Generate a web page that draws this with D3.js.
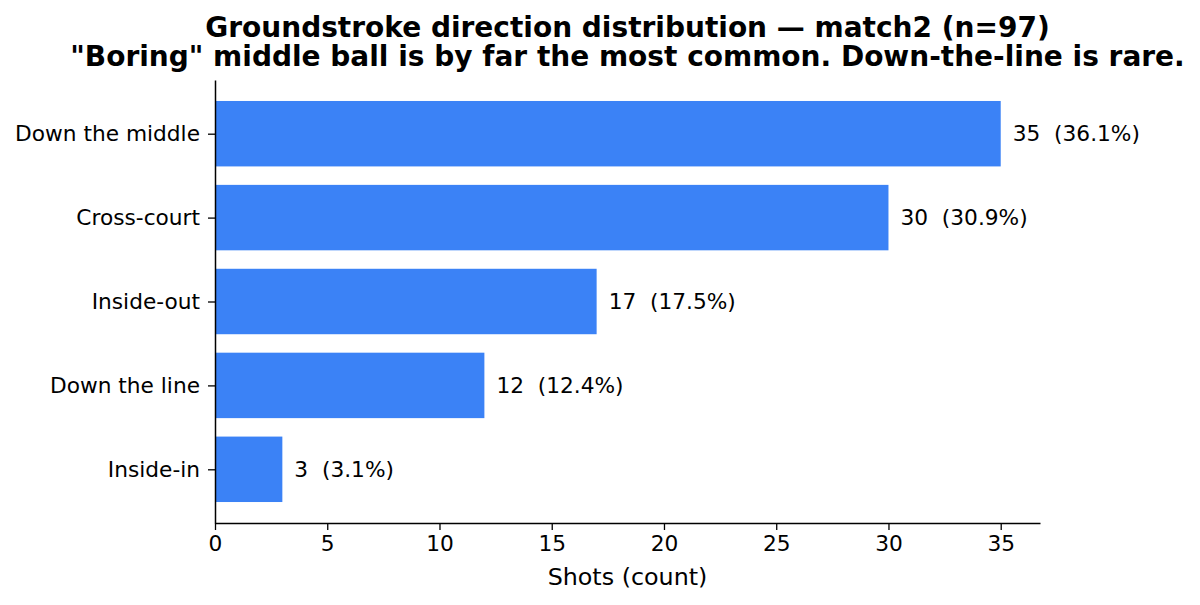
<!DOCTYPE html>
<html>
<head>
<meta charset="utf-8">
<script src="https://cdn.jsdelivr.net/npm/d3@7"></script>
<style>
body { margin: 0; background: #fff; }
text { font-family: "DejaVu Sans", sans-serif; fill: #000; }
</style>
</head>
<body>
<svg id="chart" width="1200" height="605"></svg>
<script>
var categories = ["Down the middle", "Cross-court", "Inside-out", "Down the line", "Inside-in"];
var counts = [35, 30, 17, 12, 3];
var percents = [36.1, 30.9, 17.5, 12.4, 3.1];
var xTicks = [0, 5, 10, 15, 20, 25, 30, 35];

var titleLines = [
	"Groundstroke direction distribution \u2014 match2 (n=97)",
	"\"Boring\" middle ball is by far the most common. Down-the-line is rare."
];

var chart = {};
chart.left = 215;
chart.right = 1040;
chart.top = 80;
chart.bottom = 523;
chart.barColor = "#3b82f6";
chart.tickFont = "21.7px";

var svg = d3.select("#chart");

var x = d3.scaleLinear().domain([0, 36.75]).range([chart.left, chart.right]);
var y = d3.scaleLinear().domain([-0.64, 4.64]).range([chart.top, chart.bottom]);
var barH = (y(1) - y(0)) * 0.78;

// bars
svg.append("g").selectAll("rect")
	.data(categories)
	.enter().append("rect")
	.attr("x", x(0))
	.attr("y", function(d, i){ return y(i) - barH / 2; })
	.attr("width", function(d, i){ return x(counts[i]) - x(0); })
	.attr("height", barH)
	.style("fill", chart.barColor);

// value labels
svg.append("g").selectAll("text")
	.data(categories)
	.enter().append("text")
	.attr("x", function(d, i){ return x(counts[i]) + 12; })
	.attr("y", function(d, i){ return y(i); })
	.attr("dy", "0.35em")
	.style("font-size", chart.tickFont)
	.style("white-space", "pre")
	.attr("xml:space", "preserve")
	.text(function(d, i){ return counts[i] + "  (" + percents[i].toFixed(1) + "%)"; });

// x axis
var xAxis = svg.append("g")
	.attr("transform", "translate(0," + chart.bottom + ")")
	.call(d3.axisBottom(x).tickValues(xTicks).tickSize(7).tickPadding(6).tickSizeOuter(0));
xAxis.select(".domain").attr("stroke-width", 1.5);
xAxis.selectAll(".tick line").attr("stroke-width", 1.3);
xAxis.selectAll("text").style("font-size", chart.tickFont).style("font-family", "DejaVu Sans");

// y axis
var yAxis = svg.append("g")
	.attr("transform", "translate(" + chart.left + ",0)")
	.call(d3.axisLeft(y).tickValues(d3.range(categories.length))
		.tickFormat(function(i){ return categories[i]; })
		.tickSize(7).tickPadding(8).tickSizeOuter(0));
yAxis.select(".domain").attr("stroke-width", 1.5);
yAxis.selectAll(".tick line").attr("stroke-width", 1.3);
yAxis.selectAll("text").style("font-size", chart.tickFont).style("font-family", "DejaVu Sans");

// x axis label
svg.append("text")
	.attr("x", (chart.left + chart.right) / 2)
	.attr("y", 585)
	.attr("text-anchor", "middle")
	.style("font-size", "23.8px")
	.text("Shots (count)");

// title
svg.append("g").selectAll("text")
	.data(titleLines)
	.enter().append("text")
	.attr("x", (chart.left + chart.right) / 2)
	.attr("y", function(d, i){ return 37 + i * 29; })
	.attr("text-anchor", "middle")
	.style("font-size", "28px")
	.style("font-weight", "bold")
	.text(function(d){ return d; });
</script>
</body>
</html>
